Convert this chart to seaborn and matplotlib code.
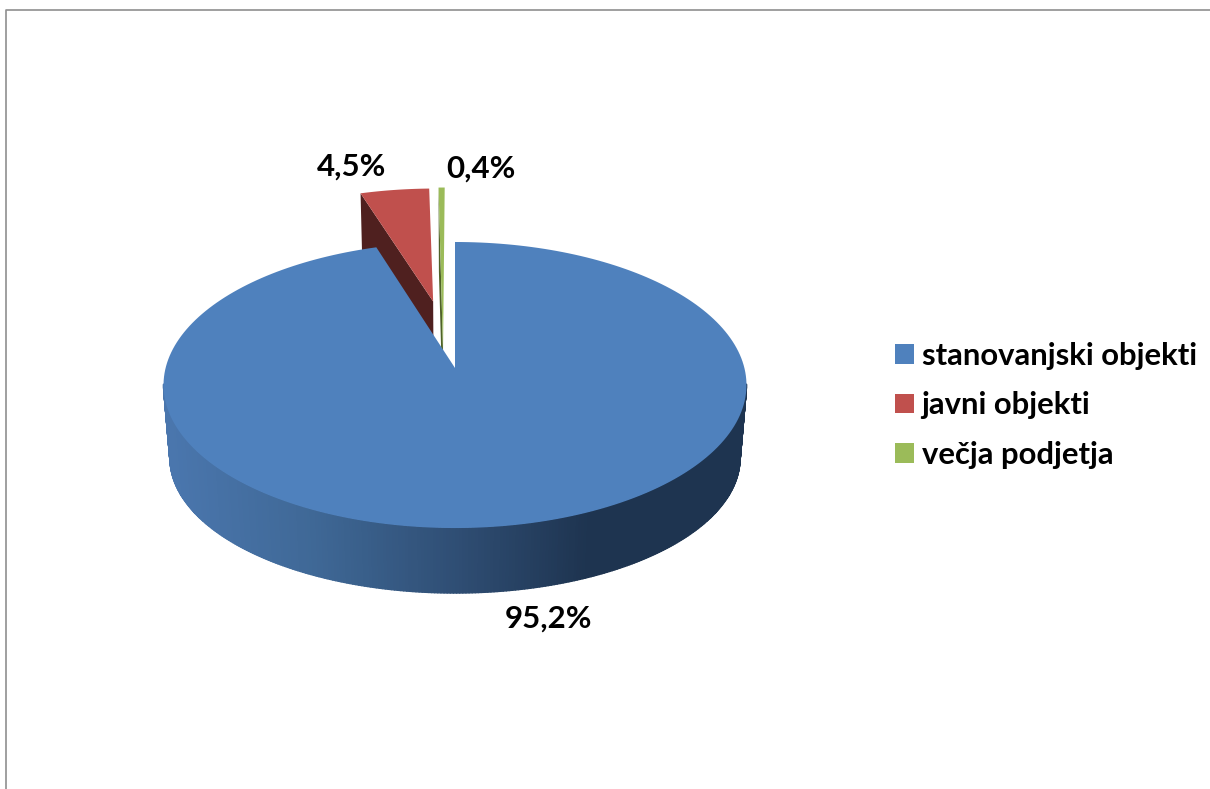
import numpy as np
import matplotlib
matplotlib.use('Agg')
import matplotlib.pyplot as plt
from matplotlib.collections import PolyCollection
from matplotlib.colors import LinearSegmentedColormap
from matplotlib.patches import Patch, Polygon
import seaborn as sns

# --- data ---
categories = ['stanovanjski objekti', 'javni objekti', 'večja podjetja']
shares = [95.2, 4.5, 0.4]

# --- style ---
top_colors = ['#4f81bd', '#c0504d', '#9bbb59']
side_colors = ['#1e3450', '#4f201f', '#4f6228']
wall_cmap = LinearSegmentedColormap.from_list(
    'wall', [(0, '#4a76ad'), (0.25, '#3f6896'), (0.5, '#2f4e74'), (0.73, '#1e3450'), (1, '#1e3450')])

sns.set_theme(style='white')
plt.rcParams['font.family'] = ['Lato', 'DejaVu Sans']
palette = sns.color_palette(top_colors)

# perspective of the pie disc, in image pixels
CX, CY = 455, 368
SX, SY = 289.4, 141
P = 0.119
# slice offset (u, v) and radial stretch towards the back
offsets = [(0, 0), (-0.08, 0.50), (-0.042, 0.13)]
stretch = [1, 1, 1.38]


def project(u, v):
    d = 1 + P * v
    return CX + SX * u / d, CY - SY * v / d


def drop(x, y):
    # same point on the underside of the pie
    return CX + 0.978 * (x - CX), 458 + 0.944 * (y - 385)


def wedge(start, end, off, st):
    t = np.radians(np.linspace(start, end, 240))
    u = np.r_[off[0], off[0] + np.sin(t)]
    v = np.r_[off[1], off[1] + st * np.cos(t)]
    return np.column_stack(project(u, v))


fig = plt.figure(figsize=(12.1, 7.89), dpi=100)
ax = fig.add_axes([0, 0, 1, 1])
ax.set_xlim(0, 1210)
ax.set_ylim(789, 0)
ax.axis('off')

# slice angles, clockwise from 12 o'clock
total = sum(shares)
ends = np.cumsum(shares) / total * 360
starts = np.r_[0, ends[:-1]]

# outer wall of the big slice, shaded left to right
t = np.radians(np.linspace(263.5, 96.5, 300))
tx, ty = project(np.sin(t), np.cos(t))
bx, by = drop(tx, ty)
quads = [[(tx[i], ty[i]), (tx[i + 1], ty[i + 1]), (bx[i + 1], by[i + 1]), (bx[i], by[i])]
         for i in range(len(t) - 1)]
wall = PolyCollection(quads, cmap=wall_cmap, edgecolors='face', linewidths=1.0, zorder=1)
wall.set_array((tx[:-1] + tx[1:]) / 2)
wall.set_clim(170, 745)
ax.add_collection(wall)

# exploded slices first, the big slice goes over them
for i in [1, 2]:
    pts = wedge(starts[i], ends[i], offsets[i], stretch[i])
    apex, corner = pts[0], pts[1]
    side = [apex, corner, drop(*corner), drop(*apex)]
    ax.add_patch(Polygon(side, closed=True, fc=side_colors[i], ec='none', zorder=2))
    ax.add_patch(Polygon(pts, closed=True, fc=palette[i], ec='none', zorder=3))

pts = wedge(starts[0], ends[0], offsets[0], stretch[0])
ax.add_patch(Polygon(pts, closed=True, fc=palette[0], ec='none', zorder=4))

# value labels
label_pos = [(549, 619), (352, 167), (481, 169)]
for val, (lx, ly) in zip(shares, label_pos):
    ax.text(lx, ly, f'{val:.1f}%'.replace('.', ','), ha='center', va='center',
            fontsize=22.5, fontweight='bold', color='black', zorder=5)

# legend
fs = 22.3
px = fs * 100 / 72
handles = [Patch(fc=palette[i], ec='none', label=categories[i]) for i in range(3)]
ax.legend(handles=handles, loc='upper left', bbox_to_anchor=(895, 342),
          bbox_transform=ax.transData, frameon=False, borderpad=0, borderaxespad=0,
          handlelength=18.5 / px, handleheight=18.5 / px, handletextpad=8 / px,
          labelspacing=0.69, prop={'size': fs, 'weight': 'bold'}, labelcolor='black')

# grey frame of the screenshot
ax.plot([5.5, 5.5, 1210], [789, 9.5, 9.5], color='#8f8f8f', lw=1.2, zorder=6)

fig.savefig('out.png', dpi=100)
